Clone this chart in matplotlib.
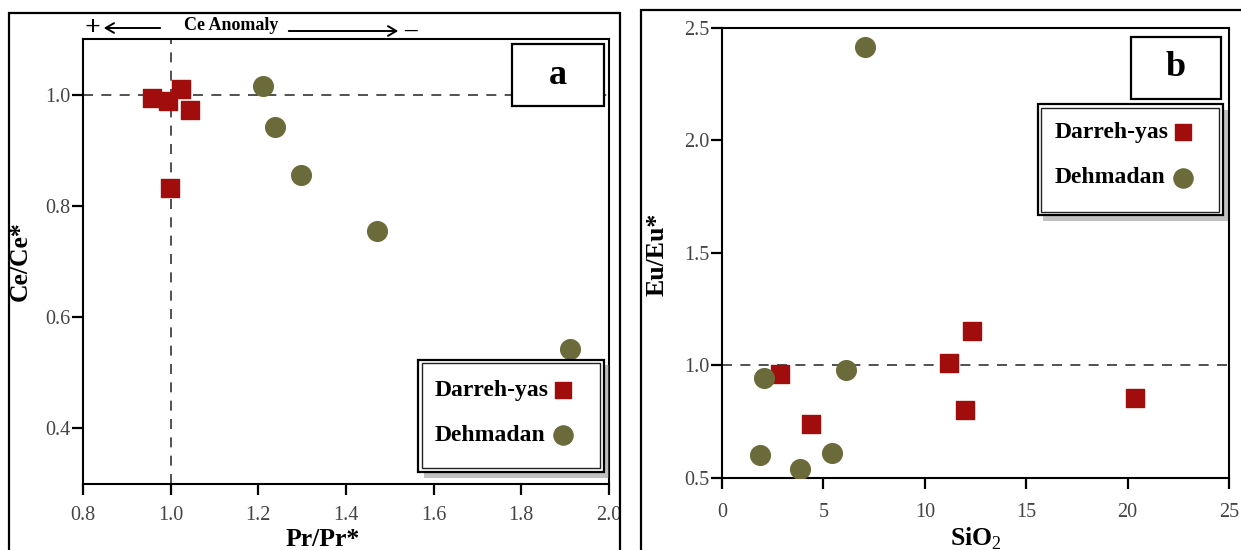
import matplotlib
matplotlib.use("Agg")
import matplotlib.pyplot as plt
from matplotlib.patches import Rectangle, FancyArrowPatch
import matplotlib.patheffects as pe

plt.rcParams['font.family'] = ['Liberation Serif', 'DejaVu Serif']
plt.rcParams['mathtext.fontset'] = 'custom'
plt.rcParams['mathtext.rm'] = 'Liberation Serif'
plt.rcParams['mathtext.bf'] = 'Liberation Serif:bold'

# Ce/Ce* vs Pr/Pr*
a_darreh_pr = [0.958, 0.995, 1.024, 1.045, 0.999]
a_darreh_ce = [0.994, 0.988, 1.010, 0.973, 0.833]
a_dehm_pr = [1.210, 1.239, 1.298, 1.471, 1.912]
a_dehm_ce = [1.016, 0.942, 0.856, 0.755, 0.543]

# Eu/Eu* vs SiO2
b_darreh_si = [2.87, 4.40, 11.18, 12.31, 11.96, 20.37]
b_darreh_eu = [0.963, 0.741, 1.012, 1.155, 0.803, 0.855]
b_dehm_si = [7.07, 2.09, 6.10, 1.89, 3.85, 5.42]
b_dehm_eu = [2.414, 0.944, 0.978, 0.601, 0.542, 0.613]

a_xticks = [0.8, 1.0, 1.2, 1.4, 1.6, 1.8, 2.0]
a_yticks = [0.4, 0.6, 0.8, 1.0]
b_xticks = [0, 5, 10, 15, 20, 25]
b_yticks = [0.5, 1.0, 1.5, 2.0, 2.5]

RED = '#a10d0d'
OLIVE = '#6b6a3a'
TICK_COL = '#444444'

fig = plt.figure(figsize=(12.41, 5.5), dpi=100)
W, H = 1241, 550


def px_axes(l, r, t, b):
    return fig.add_axes([l / W, (H - b) / H, (r - l) / W, (b - t) / H])


ax_a = px_axes(83, 609, 39, 484)
ax_b = px_axes(722, 1229, 28, 478)

# panel frames
fig.patches.append(Rectangle((9 / W, -0.05), (620 - 9) / W, 1.05 - 12.5 / H,
                             transform=fig.transFigure, fill=False,
                             ec='black', lw=1.6, zorder=0))
fig.patches.append(Rectangle((641 / W, -0.05), 0.5, 1.05 - 10 / H,
                             transform=fig.transFigure, fill=False,
                             ec='black', lw=1.6, zorder=0))

dash = (6, 5)


def style_axes(ax, xticks, yticks, xpad):
    for s in ax.spines.values():
        s.set_linewidth(1.5)
    ax.set_xticks(xticks)
    ax.set_yticks(yticks)
    ax.set_xticklabels([f'{t:.1f}' if isinstance(t, float) else str(t) for t in xticks])
    ax.set_yticklabels([f'{t:.1f}' for t in yticks])
    ax.tick_params(direction='out', length=8, width=1.6, labelsize=14.5,
                   labelcolor=TICK_COL, colors='black')
    ax.tick_params(axis='x', pad=xpad)
    ax.tick_params(axis='y', pad=1)


def legend_box(ax, x0, y0, x1, y1, ty1, ty2, tx, mx):
    outer = Rectangle((x0, y0), x1 - x0, y1 - y0, transform=ax.transAxes,
                      fc='white', ec='black', lw=1.6, zorder=5, clip_on=False)
    outer.set_path_effects([pe.SimplePatchShadow(offset=(4, -4), shadow_rgbFace='#777777', alpha=0.45),
                            pe.Normal()])
    ax.add_patch(outer)
    dx, dy = 3.5 / ax.bbox.width, 3.5 / ax.bbox.height
    ax.add_patch(Rectangle((x0 + dx, y0 + dy), x1 - x0 - 2 * dx, y1 - y0 - 2 * dy,
                           transform=ax.transAxes, fill=False, ec='#222222',
                           lw=1.0, zorder=6, clip_on=False))
    ax.text(tx, ty1, 'Darreh-yas', transform=ax.transAxes, fontsize=17,
            fontweight='bold', va='center', ha='left', zorder=7)
    ax.text(tx, ty2, 'Dehmadan', transform=ax.transAxes, fontsize=17,
            fontweight='bold', va='center', ha='left', zorder=7)
    ax.scatter([mx], [ty1], marker='s', s=130, c=RED, transform=ax.transAxes,
               zorder=7, clip_on=False)
    ax.scatter([mx], [ty2], marker='o', s=190, c=OLIVE, transform=ax.transAxes,
               zorder=7, clip_on=False)


def letter_box(ax, x0, y0, x1, y1, letter):
    ax.add_patch(Rectangle((x0, y0), x1 - x0, y1 - y0, transform=ax.transAxes,
                           fc='white', ec='black', lw=1.6, zorder=5, clip_on=False))
    ax.text((x0 + x1) / 2, (y0 + y1) / 2, letter, transform=ax.transAxes,
            fontsize=26, fontweight='bold', ha='center', va='center', zorder=6)


# ---- panel a ----
ax_a.set_xlim(0.8, 2.0)
ax_a.set_ylim(0.3, 1.1)
ax_a.axhline(1.0, color='#333333', lw=1.2, dashes=dash, zorder=1)
ax_a.axvline(1.0, color='#333333', lw=1.2, dashes=dash, zorder=1)
ax_a.scatter(a_darreh_pr, a_darreh_ce, marker='s', s=160, c=RED, zorder=3)
ax_a.scatter(a_dehm_pr, a_dehm_ce, marker='o', s=200, c=OLIVE, zorder=3)
style_axes(ax_a, a_xticks, a_yticks, xpad=8)
ax_a.set_xlabel('Pr/Pr*', fontsize=18.5, fontweight='bold')
ax_a.xaxis.set_label_coords(0.455, -0.1)
ax_a.set_ylabel('Ce/Ce*', fontsize=18.5, fontweight='bold')
ax_a.yaxis.set_label_coords(-0.098, 0.5)
letter_box(ax_a, 0.816, 0.849, 0.990, 0.989, 'a')
legend_box(ax_a, 0.637, 0.027, 0.990, 0.279, 0.211, 0.110, 0.669, 0.913)

# Ce anomaly direction note above panel a
y_note = (H - 28) / H
fig.text(92 / W, y_note, '+', fontsize=20, fontweight='bold', ha='center', va='center')
fig.text(231 / W, y_note + 3 / H, 'Ce Anomaly', fontsize=13, fontweight='bold',
         ha='center', va='center')
fig.text(410 / W, y_note - 2 / H, '\u2013', fontsize=18, fontweight='bold', ha='center', va='center')
fig.add_artist(FancyArrowPatch((163 / W, y_note), (101 / W, y_note),
                               transform=fig.transFigure,
                               arrowstyle='->,head_length=6,head_width=3.5',
                               lw=1.4, color='black'))
fig.add_artist(FancyArrowPatch((286 / W, y_note - 3 / H), (401 / W, y_note - 3 / H),
                               transform=fig.transFigure,
                               arrowstyle='->,head_length=6,head_width=3.5',
                               lw=1.4, color='black'))

# ---- panel b ----
ax_b.set_xlim(0, 25)
ax_b.set_ylim(0.5, 2.5)
ax_b.axhline(1.0, color='#333333', lw=1.2, dashes=dash, zorder=1)
ax_b.scatter(b_darreh_si, b_darreh_eu, marker='s', s=160, c=RED, zorder=3)
ax_b.scatter(b_dehm_si, b_dehm_eu, marker='o', s=200, c=OLIVE, zorder=3)
style_axes(ax_b, b_xticks, b_yticks, xpad=10)
ax_b.set_xlabel('SiO$_{\\mathrm{2}}$', fontsize=18.5, fontweight='bold')
ax_b.xaxis.set_label_coords(0.5, -0.105)
ax_b.set_ylabel('Eu/Eu*', fontsize=18.5, fontweight='bold')
ax_b.yaxis.set_label_coords(-0.106, 0.496)
letter_box(ax_b, 0.806, 0.843, 0.985, 0.981, 'b')
legend_box(ax_b, 0.623, 0.584, 0.988, 0.831, 0.768, 0.667, 0.657, 0.909)

fig.savefig('out.png', dpi=100)
